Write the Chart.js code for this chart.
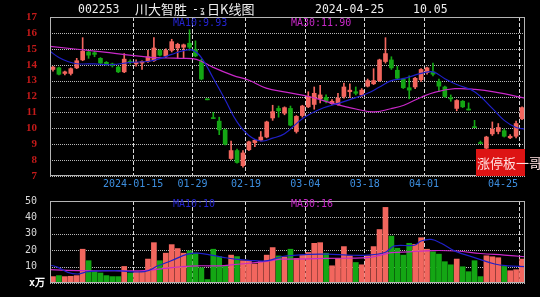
<!DOCTYPE html>
<html lang="zh-CN">
<head>
<meta charset="UTF-8">
<title>002253 川大智胜 日K线图</title>
<script src="https://cdn.jsdelivr.net/npm/chart.js"></script>
<style>
  html, body { margin: 0; padding: 0; background: #000; }
  body { position: relative; width: 540px; height: 297px; overflow: hidden; }
  canvas { position: absolute; left: 0; }
  #kChart { top: 0; }
  #vChart { top: 190px; }
  .t { position: absolute; white-space: nowrap; font-family: "DejaVu Sans Mono", monospace; line-height: 1; }
  .title { color: #eeeeee; font-size: 11.5px; top: 4px; }
  .cjk { font-family: "Noto Sans CJK SC", sans-serif; font-size: 13px; top: 2px; color: #eeeeee; }
  .ma { font-size: 10px; }
  .blue { color: #2424d0; }
  .pink { color: #c828c8; }
  #stamp { position: absolute; left: 476px; top: 149px; width: 49px; height: 27px; background: #dd1414; }
  #stamp span { position: absolute; left: 1px; top: 7px; font-family: "Noto Sans CJK SC", sans-serif; font-size: 13px; color: #ffe0e0; white-space: nowrap; line-height: 1; }
  #unit { left: 29px; top: 278px; color: #fff; font-weight: bold; font-size: 10px; }
</style>
</head>
<body>
<canvas id="kChart" width="540" height="190"></canvas>
<canvas id="vChart" width="540" height="107"></canvas>

<div class="t title" style="left:78px">002253</div>
<div class="t cjk" style="left:135px">川大智胜</div>
<div class="t title" style="left:192px">-</div>
<div class="t title" style="left:200px;font-size:8px;top:7px">ʓ</div>
<div class="t cjk" style="left:207px">日K线图</div>
<div class="t title" style="left:315px">2024-04-25</div>
<div class="t title" style="left:413px">10.05</div>

<div class="t ma blue" style="left:173px;top:18px">MA10:9.93</div>
<div class="t ma pink" style="left:291px;top:18px">MA30:11.90</div>
<div class="t ma blue" style="left:173px;top:199px">MA10:10</div>
<div class="t ma pink" style="left:291px;top:199px">MA30:16</div>
<div class="t" id="unit">x万</div>
<div id="stamp"><span>涨停板一哥</span></div>

<script>
// trading days shown (2023-12-25 .. 2024-04-25)
const days = ['12-25','12-26','12-27','12-28','12-29',
  '01-02','01-03','01-04','01-05','01-08','01-09','01-10','01-11','01-12',
  '01-15','01-16','01-17','01-18','01-19','01-22','01-23','01-24','01-25','01-26',
  '01-29','01-30','01-31','02-01','02-02','02-05','02-06','02-07','02-08',
  '02-19','02-20','02-21','02-22','02-23','02-26','02-27','02-28','02-29','03-01',
  '03-04','03-05','03-06','03-07','03-08','03-11','03-12','03-13','03-14','03-15',
  '03-18','03-19','03-20','03-21','03-22','03-25','03-26','03-27','03-28','03-29',
  '04-01','04-02','04-03','04-08','04-09','04-10','04-11','04-12',
  '04-15','04-16','04-17','04-18','04-19','04-22','04-23','04-24','04-25'];
const tickDays = ['01-15','01-29','02-19','03-04','03-18','04-01','04-25'];
const tickText = ['2024-01-15','01-29','02-19','03-04','03-18','04-01','04-25'];

const open = [13.7,13.8,13.45,13.45,13.8,14.3,14.8,14.75,14.4,14.15,
  14.05,13.85,13.55,14.2,14.05,14.1,14.2,14.25,14.9,14.55,
  14.9,15.05,15.1,15.35,14.95,14.2,11.79,10.61,10.45,9.9,
  8.1,8.6,7.65,8.65,9.1,9.25,9.45,10.65,11.25,10.95,
  11.25,9.8,10.8,11.35,11.5,11.85,11.95,11.55,11.5,12.0,
  12.3,12.3,12.1,12.65,12.8,13.0,14.2,14.3,13.65,13.1,
  12.55,12.6,13.05,13.5,13.55,12.95,12.6,11.9,11.25,11.7,
  11.15,10.04,9.04,8.75,9.65,9.8,9.85,9.4,9.5,10.6];
const high = [13.9,13.85,13.6,13.8,14.4,15.7,14.9,14.85,14.45,14.2,
  14.1,13.9,14.7,14.3,14.3,14.25,14.9,15.7,14.95,15.0,
  15.6,15.35,15.3,16.2,15.5,14.35,11.79,11.0,10.7,9.95,
  9.2,8.7,8.6,9.2,9.3,9.8,10.45,11.45,11.4,11.35,
  11.4,10.8,11.45,12.3,12.6,12.7,12.1,11.8,12.2,12.85,
  12.8,12.6,12.5,13.1,13.75,14.35,15.7,14.5,13.9,13.15,
  13.3,13.2,13.75,13.85,14.1,13.1,12.65,12.1,11.8,11.75,
  11.6,10.5,9.2,9.5,10.4,10.3,9.95,9.6,10.45,11.35];
const low = [13.6,13.35,13.35,13.35,13.75,14.25,14.4,14.5,14.05,13.95,
  13.85,13.5,13.5,14.05,13.9,13.7,14.15,14.2,14.55,14.45,
  14.8,14.4,14.4,14.9,14.5,13.05,11.79,10.61,9.6,8.95,
  8.05,7.8,7.55,8.6,8.85,9.2,9.4,10.5,10.7,10.85,
  10.15,9.7,10.7,11.3,11.2,11.6,11.6,11.5,11.45,11.9,
  11.95,12.1,12.0,12.6,12.75,12.95,14.1,13.7,13.1,12.5,
  11.85,12.5,12.95,13.4,13.3,12.3,11.95,11.7,11.1,11.3,
  11.15,10.04,9.04,8.7,9.55,9.65,9.45,9.35,9.4,10.55];
const close = [13.85,13.4,13.55,13.75,14.25,14.85,14.6,14.65,14.1,14.0,
  13.95,13.55,14.35,14.15,14.15,14.2,14.5,15.05,14.6,14.9,
  15.45,15.28,15.25,15.1,14.55,13.1,11.79,10.61,9.9,9.0,
  8.6,7.85,8.45,9.15,9.25,9.45,10.4,11.05,11.1,11.3,
  10.2,10.75,11.4,12.0,12.2,12.1,11.7,11.7,11.9,12.6,
  12.4,12.2,12.4,13.0,13.0,14.3,14.7,13.8,13.15,12.55,
  12.4,13.15,13.7,13.8,13.4,12.65,12.0,11.85,11.75,11.35,
  11.15,10.04,9.04,9.45,9.95,10.05,9.5,9.5,10.3,11.3];
// volume, 10k lots
const volume = [3.9,4.5,3.9,4.1,4.5,20.6,13.6,6.9,6.1,4.5,
  3.9,3.9,10.1,6.1,6.9,6.9,14.6,24.6,13.6,18.2,
  23.4,21.0,18.2,19.6,18.2,9.3,2.1,20.6,16.1,10.5,
  17.0,16.1,13.6,13.6,11.6,13.2,17.0,21.6,16.5,15.9,
  20.6,15.0,17.0,18.6,24.2,24.6,18.2,10.5,15.0,22.2,
  16.6,12.5,11.1,16.6,22.2,32.6,46.1,28.6,21.2,17.0,
  24.2,23.6,27.6,20.6,19.0,17.6,13.0,11.1,14.6,9.9,
  6.9,13.6,3.9,16.6,16.0,15.4,10.1,7.5,8.1,14.6];

// moving averages (slot index -> value)
const ma10PriceAt = [-0.5,1,2.5,4,7,10,13,16,18,20,22,23.5,25,27,29,31,33,35,37,39,42,45,47,50,53,55,57,59,62,64,66,68,71,74,76,78,79.5];
const ma10Price = [14.85,14.45,14.2,14.06,14.05,14.0,14.15,14.2,14.38,14.65,14.88,14.92,14.45,13.15,11.8,10.4,9.55,9.2,9.38,9.66,10.6,11.2,11.45,11.8,12.2,12.6,13.0,13.12,13.45,13.55,13.12,12.75,12.3,11.25,10.5,10.05,9.95];
const ma30PriceAt = [-0.5,7.9,16.3,19,21.4,23.5,24.8,26.9,30.3,33,35.9,39.2,43.4,47.3,51.2,54,56.9,59.1,62.1,64.4,67.7,71.1,74.5,79.5];
const ma30Price = [15.15,14.82,14.46,14.42,14.4,14.38,14.25,13.85,13.33,13.02,12.53,12.28,11.97,11.55,11.2,11.03,11.23,11.45,11.97,12.28,12.49,12.45,12.28,11.9];
const ma10VolAt = [-0.5,0.85,2.5,4.2,5.9,10.4,15.4,17.7,19.9,22.7,24.4,26.7,28.9,30.6,34,36.2,38.4,39.6,43,46.3,49.7,53,55.9,57.5,60.9,62,63.7,65.4,67.6,71,74.4,76.6,79.5];
const ma10Vol = [11.0,9.5,6.5,5.5,6.9,7.5,6.9,10.5,13.6,17.6,18.2,17.0,15.5,14.6,13.6,13.6,16.0,16.6,17.5,17.6,17.0,17.0,18.6,22.6,23.0,25.6,26.6,24.2,19.6,15.5,11.6,10.5,10.0];
const ma30VolAt = [-0.5,4.8,10.4,15.4,18.8,21.6,24.4,28.3,31.6,35.6,38.4,39.6,46,53,55,57,60,64,68,72,76,79.5];
const ma30Vol = [8.1,7.5,7.5,7.5,8.9,9.9,10.5,10.5,11.6,13.0,14.6,14.5,15.0,15.5,16.8,18.5,19.0,19.8,19.5,18.0,17.0,16.0];

const RED = '#f2665e', GREEN = '#14a614';
const BLUE = '#2020c8', PINK = '#c828c8';

const tickPos = tickDays.map(d => days.indexOf(d));
const isUp = close.map((c, i) => c > open[i] || (c === open[i] && c >= (i ? close[i - 1] : c)));
const colors = isUp.map(u => u ? RED : GREEN);
const pts = (at, vals) => at.map((a, i) => ({ x: a + 0.5, y: vals[i] }));

function xAxis(h) {
  return {
    type: 'linear', min: 0, max: days.length, offset: false,
    afterBuildTicks: s => { s.ticks = tickPos.map(v => ({ value: v })); },
    ticks: { display: false },
    grid: { color: '#d8d8d8', drawTicks: false, offset: false },
    border: { display: false, dash: [4, 2] },
    afterFit: s => { s.height = h; }
  };
}

function yAxis(min, max, step, tickColor, font, cb) {
  return {
    type: 'linear', min, max,
    ticks: { stepSize: step, autoSkip: false, color: tickColor, padding: 5, font, callback: cb },
    grid: { display: false },
    border: { display: false },
    afterFit: s => { s.width = 50; }
  };
}

function maLine(label, data, color) {
  return { type: 'line', label, data, borderColor: color, borderWidth: 1.2,
    pointRadius: 0, tension: 0.4, order: 0 };
}

// dotted horizontal grid at every y tick, one pixel per dot, behind the marks
const hGrid = {
  id: 'hGrid',
  beforeDatasetsDraw(chart) {
    const { ctx, chartArea: a, scales: { y } } = chart;
    ctx.save();
    ctx.fillStyle = '#b8b8b8';
    y.ticks.forEach(t => {
      const py = Math.round(y.getPixelForValue(t.value));
      for (let px = Math.round(a.left); px < a.right; px += 2) {
        ctx.fillRect(px, py, 1, 1);
      }
    });
    ctx.restore();
  }
};

// plot frame
const frame = {
  id: 'frame',
  afterDraw(chart) {
    const { ctx, chartArea: a } = chart;
    ctx.save();
    ctx.strokeStyle = '#b4b4b4';
    ctx.lineWidth = 1;
    ctx.strokeRect(Math.round(a.left) + 0.5, Math.round(a.top) + 0.5, Math.round(a.width) - 1, Math.round(a.height) - 1);
    ctx.restore();
  }
};

// date labels under the price panel, last one kept inside the frame
const dateLabels = {
  id: 'dateLabels',
  afterDraw(chart) {
    const { ctx, chartArea, scales: { x } } = chart;
    ctx.save();
    ctx.font = '10px "DejaVu Sans Mono"';
    ctx.fillStyle = '#3d8fe0';
    ctx.textAlign = 'center';
    ctx.textBaseline = 'middle';
    tickPos.forEach((v, i) => {
      const w = ctx.measureText(tickText[i]).width;
      const cx = Math.min(x.getPixelForValue(v), chartArea.right - 7 - w / 2);
      ctx.fillText(tickText[i], cx, 184.5);
    });
    ctx.restore();
  }
};

new Chart(document.getElementById('kChart'), {
  data: {
    datasets: [
      maLine('MA10', pts(ma10PriceAt, ma10Price), BLUE),
      maLine('MA30', pts(ma30PriceAt, ma30Price), PINK),
      { type: 'bar', label: 'body', data: open.map((o, i) => ({ x: i + 0.5, y: [o, close[i]] })),
        backgroundColor: colors, barThickness: 4, minBarLength: 1, grouped: false, order: 1 },
      { type: 'bar', label: 'wick', data: low.map((l, i) => ({ x: i + 0.5, y: [l, high[i]] })),
        backgroundColor: colors, barThickness: 1, minBarLength: 1, grouped: false, order: 2 }
    ]
  },
  options: {
    responsive: false, animation: false,
    layout: { padding: { left: 0, right: 15, top: 17, bottom: 0 } },
    plugins: { legend: { display: false }, tooltip: { enabled: false } },
    scales: {
      x: xAxis(14),
      y: yAxis(7, 17, 1, '#c41a1a', { family: 'Liberation Serif', size: 11, weight: 'bold' })
    }
  },
  plugins: [hGrid, frame, dateLabels]
});

new Chart(document.getElementById('vChart'), {
  data: {
    datasets: [
      maLine('MA10', pts(ma10VolAt, ma10Vol), BLUE),
      maLine('MA30', pts(ma30VolAt, ma30Vol), PINK),
      { type: 'bar', label: 'volume', data: volume.map((v, i) => ({ x: i + 0.5, y: v })),
        backgroundColor: colors, barThickness: 5, grouped: false, order: 1 }
    ]
  },
  options: {
    responsive: false, animation: false,
    layout: { padding: { left: 0, right: 15, top: 9, bottom: 0 } },
    plugins: { legend: { display: false }, tooltip: { enabled: false } },
    scales: {
      x: xAxis(14),
      y: yAxis(0, 50, 10, '#d8d8d8', { family: 'DejaVu Sans Mono', size: 10 }, v => v === 0 ? '' : v)
    }
  },
  plugins: [hGrid, frame]
});
</script>
</body>
</html>
